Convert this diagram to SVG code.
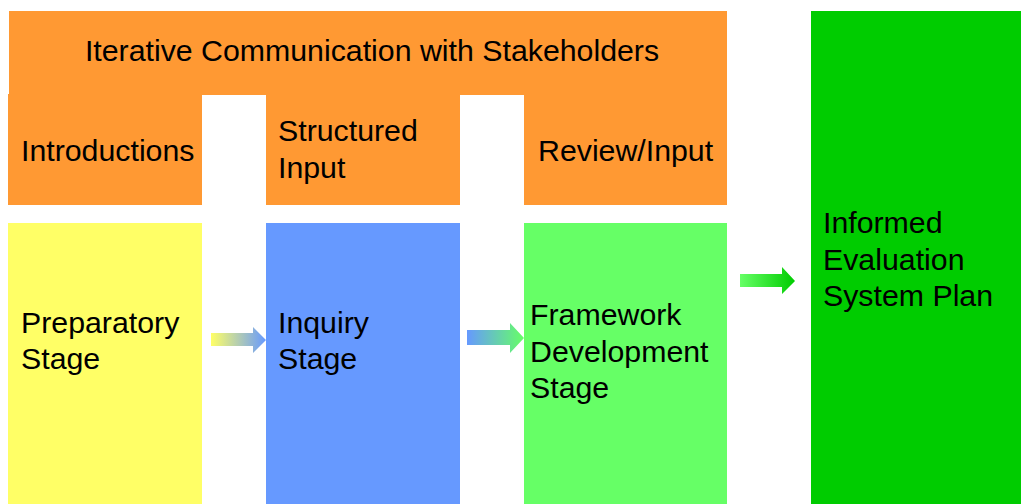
<svg xmlns="http://www.w3.org/2000/svg" width="1021" height="504" viewBox="0 0 1021 504">
<style>
text{font-family:"Liberation Sans",Arial,sans-serif;font-size:30.3px;fill:#000}
.or{fill:#FF9933}
</style>
<defs>
<linearGradient id="g1" x1="0" y1="0" x2="1" y2="0"><stop offset="0" stop-color="#FFFF66"/><stop offset="1" stop-color="#6699FF"/></linearGradient>
<linearGradient id="g2" x1="0" y1="0" x2="1" y2="0"><stop offset="0" stop-color="#6699FF"/><stop offset="1" stop-color="#66FF66"/></linearGradient>
<linearGradient id="g3" x1="0" y1="0" x2="1" y2="0"><stop offset="0" stop-color="#66FF66"/><stop offset="1" stop-color="#00CC00"/></linearGradient>
</defs>
<rect width="1021" height="504" fill="#fff"/>
<g id="iterative">
<rect class="or" x="9" y="11" width="718" height="84"/>
<text x="372" y="61" text-anchor="middle">Iterative Communication with Stakeholders</text>
</g>
<g id="introductions">
<rect class="or" x="8" y="94" width="194" height="111"/>
<text x="21" y="161">Introductions</text>
</g>
<g id="structured">
<rect class="or" x="266" y="94" width="194" height="111"/>
<text x="278" y="141">Structured</text>
<text x="278" y="178">Input</text>
</g>
<g id="review">
<rect class="or" x="524" y="94" width="203" height="111"/>
<text x="538" y="161">Review/Input</text>
</g>
<g id="preparatory">
<rect x="8" y="223" width="194" height="281" fill="#FFFF66"/>
<text x="21" y="333">Preparatory</text>
<text x="21" y="369">Stage</text>
</g>
<g id="inquiry">
<rect x="266" y="223" width="194" height="281" fill="#6699FF"/>
<text x="278" y="333">Inquiry</text>
<text x="278" y="369">Stage</text>
</g>
<g id="framework">
<rect x="524" y="223" width="203" height="281" fill="#66FF66"/>
<text x="530" y="325">Framework</text>
<text x="530" y="362">Development</text>
<text x="530" y="398">Stage</text>
</g>
<g id="informed">
<rect x="811" y="11" width="210" height="493" fill="#00CC00"/>
<text x="823" y="233">Informed</text>
<text x="823" y="270">Evaluation</text>
<text x="823" y="306">System Plan</text>
</g>
<g id="connectors">
<path d="M211,333 H253 V327 L266,340 L253,353 V346 H211 Z" fill="url(#g1)"/>
<path d="M467,330 H510 V323 L524,338 L510,353 V345 H467 Z" fill="url(#g2)"/>
<path d="M740,274 H782 V267 L795,281 L782,294 V287 H740 Z" fill="url(#g3)"/>
</g>
</svg>
